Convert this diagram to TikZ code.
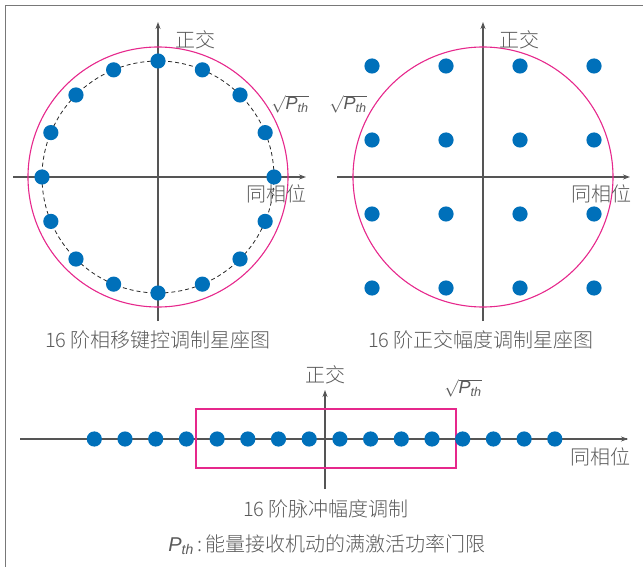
\documentclass[tikz,border=0pt]{standalone}
\usepackage{amsmath}
\usepackage{fontspec}
\setmainfont{Noto Sans CJK SC Light}
\setsansfont{Liberation Sans}
\usetikzlibrary{arrows.meta}
\definecolor{dotblue}{RGB}{0,112,186}
\definecolor{mag}{RGB}{230,40,140}
\definecolor{axgray}{RGB}{85,85,85}
\definecolor{txtgray}{RGB}{90,90,90}
\definecolor{framegray}{RGB}{120,120,120}
\newcommand{\Pth}{\text{\sffamily\itshape P}_{\text{\sffamily\itshape th}}}
\begin{document}
\begin{tikzpicture}[x=1pt,y=-1pt,
  axisline/.style={draw=axgray,line width=1.1pt,-{Stealth[length=7pt,width=5pt]}},
  plainaxis/.style={draw=axgray,line width=1.1pt},
  thresh/.style={draw=mag,line width=1.1pt},
  ringdash/.style={draw=black!85,line width=0.8pt,dash pattern=on 4pt off 3pt},
  lbl/.style={text=txtgray,font=\fontsize{20}{20}\selectfont,inner sep=0pt},
  sq/.style={text=txtgray,font=\fontsize{18}{18}\selectfont,inner sep=0pt},
  dotfill/.style={fill=dotblue}]
\useasboundingbox (0,0) rectangle (643,567);
\draw[framegray,line width=1.2pt] (643,5.5) -- (5.5,5.5) -- (5.5,567);

% ---------- left: 16-PSK ----------
\coordinate (L) at (158,177);
\coordinate (Lw) at (13,177);
\coordinate (Le) at (306,177);
\coordinate (Ls) at (158,321);
\coordinate (Ln) at (158,22);
\draw[axisline] (Lw) -- (Le);
\draw[axisline] (Ls) -- (Ln);
\draw[thresh] (L) circle (130pt);
\draw[ringdash] (L) circle (116pt);
\foreach \a in {0,22.5,...,337.5}
  \fill[dotfill,shift={(L)}] (\a:116pt) circle (7.6pt);
\node[lbl] (Lq) at (195,40) {正交};
\node[lbl] (Li) at (276,194) {同相位};
\node[sq] (Lp) at (290,104) {$\sqrt{\Pth}$};
\node[lbl] (Lc) at (158,340) {16 阶相移键控调制星座图};

% ---------- right: 16-QAM ----------
\coordinate (R) at (483,177);
\coordinate (Rw) at (337,177);
\coordinate (Re) at (630,177);
\coordinate (Rs) at (483,321);
\coordinate (Rn) at (483,22);
\draw[axisline] (Rw) -- (Re);
\draw[axisline] (Rs) -- (Rn);
\draw[thresh] (R) circle (130pt);
\foreach \i in {-111,-37,37,111}
  \foreach \j in {-111,-37,37,111}
    \fill[dotfill,shift={(R)}] (\i,\j) circle (7.6pt);
\node[lbl] (Rq) at (519,40) {正交};
\node[lbl] (Ri) at (601,194) {同相位};
\node[sq] (Rp) at (348,104) {$\sqrt{\Pth}$};
\node[lbl] (Rc) at (481,340) {16 阶正交幅度调制星座图};

% ---------- bottom: 16-PAM ----------
\coordinate (B) at (325,439);
\coordinate (Bw) at (20,439);
\coordinate (Be) at (627,439);
\coordinate (Bs) at (325,489);
\coordinate (Bn) at (325,390);
\draw[plainaxis] (Bw) -- (Be);
\draw[axisline] (Be) -- ++(1,0);
\draw[axisline] (Bs) -- (Bn);
\draw[thresh,line width=1.4pt] (196,409) rectangle (456,468);
\foreach \k in {0,...,15}
  \fill[dotfill] ({94.3+30.7*\k},439) circle (7.6pt);
\node[lbl] (Bq) at (325,375) {正交};
\node[sq] (Bp) at (463,388) {$\sqrt{\Pth}$};
\node[lbl] (Bi) at (600,457) {同相位};
\node[lbl] (Bc) at (326,509) {16 阶脉冲幅度调制};
\node[lbl] (Bf) at (327,545) {$\Pth$\,:\,能量接收机动的满激活功率门限};
\end{tikzpicture}
\end{document}
